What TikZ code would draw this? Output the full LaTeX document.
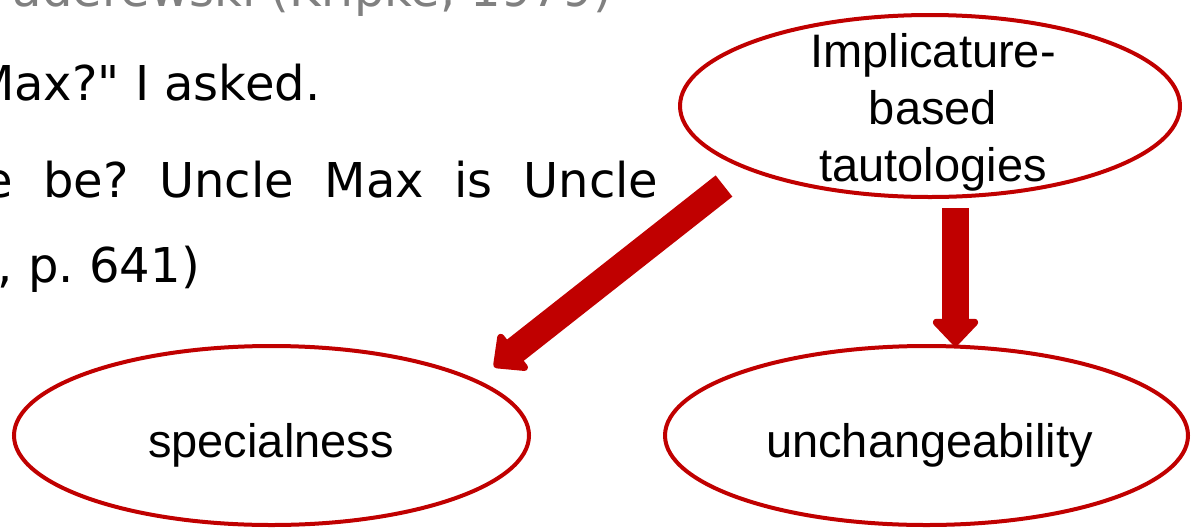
\documentclass[tikz,border=0pt]{standalone}
\usepackage{fontspec}
\setmainfont{DejaVu Sans}
\newfontfamily\bodyfont{DejaVu Sans}
\newfontfamily\labelfont{Liberation Sans}
\usetikzlibrary{shapes.geometric,arrows.meta}

\definecolor{darkred}{RGB}{192,0,0}
\definecolor{titlegray}{RGB}{128,128,128}

\tikzset{
  bigarrow/.style={draw=darkred,line width=27pt,
    -{Triangle[width=53pt,length=29pt,round]}}
}

\frenchspacing

\begin{document}
\begin{tikzpicture}[x=1pt,y=-1pt]

        \useasboundingbox (0,0) rectangle (1192,528);
        \clip (0,0) rectangle (1192,528);

        % slide text behind the diagram
        \begin{scope}[every node/.style={inner sep=0pt,font=\bodyfont\fontsize{48}{57}\selectfont}]
          \node[text=titlegray,anchor=base east] (title) at (612,6) {Paderewski (Kripke, 1979)};
          \node[anchor=base east] (line1) at (320.5,100) {Max?" I asked.};
          \node[anchor=base west] (line2) at (-17,197) {\makebox[675pt][s]{e be? Uncle Max is Uncle}};
          \node[anchor=base east] (line3) at (200,282) {, p. 641)};
        \end{scope}

        \begin{scope}[every node/.style={ellipse,draw=darkred,line width=4pt,inner sep=0pt}]
          \node[minimum width=500pt,minimum height=182pt] (impl) at (930,106)   {};
          \node[minimum width=515pt,minimum height=179pt] (spec) at (271.5,435.5) {};
          \node[minimum width=523pt,minimum height=179pt] (unch) at (926.5,435.5) {};
        \end{scope}

        \begin{scope}[every node/.style={inner sep=0pt,font=\labelfont\fontsize{47}{57}\selectfont}]
          \node[align=center,anchor=north] (impltext) at (933,33.3) {Implicature-\\based\\tautologies};
          \node[anchor=base] (spectext) at (271,457)   {specialness};
          \node[anchor=base] (unchtext) at (929.5,457) {unchangeability};
        \end{scope}

        \draw[bigarrow] ([shift={(-206,80)}]impl.center) -- ([shift={(222.5,-68.5)}]spec.center);
        \draw[bigarrow,shorten <=9pt,shorten >=-2pt] ([shift={(25.5,0)}]impl.south) -- ([shift={(29,0)}]unch.north);

      \end{tikzpicture}
\end{document}
